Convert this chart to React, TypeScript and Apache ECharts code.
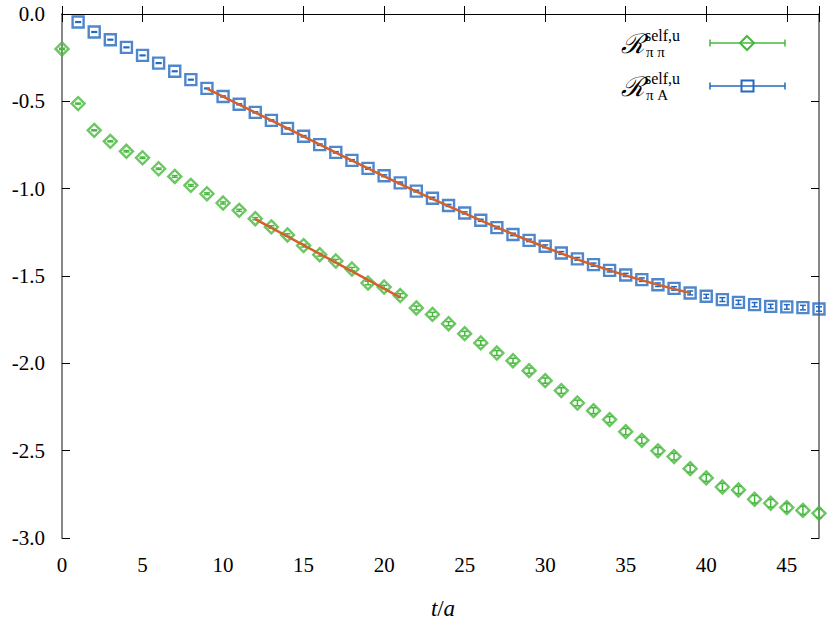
import { useEffect, useRef } from "react";
import * as echarts from "echarts";

// R^{self,u}_{ππ}, t = 0..47
const piPiValues = [
  -0.2, -0.513, -0.666, -0.729, -0.786, -0.823, -0.886, -0.93, -0.981, -1.029,
  -1.082, -1.124, -1.172, -1.219, -1.265, -1.326, -1.378, -1.414, -1.46, -1.54,
  -1.563, -1.612, -1.683, -1.72, -1.773, -1.83, -1.883, -1.941, -1.985, -2.042,
  -2.099, -2.156, -2.227, -2.271, -2.322, -2.391, -2.441, -2.501, -2.534, -2.603,
  -2.656, -2.708, -2.725, -2.778, -2.801, -2.826, -2.842, -2.859
];
const piPiErrors = [
  0.004, 0.003, 0.003, 0.003, 0.004, 0.004, 0.004, 0.005, 0.005, 0.005,
  0.006, 0.006, 0.006, 0.007, 0.007, 0.008, 0.008, 0.009, 0.009, 0.01,
  0.01, 0.011, 0.011, 0.012, 0.012, 0.013, 0.013, 0.014, 0.014, 0.015,
  0.015, 0.016, 0.016, 0.017, 0.017, 0.018, 0.018, 0.019, 0.019, 0.02,
  0.02, 0.021, 0.021, 0.022, 0.022, 0.023, 0.023, 0.024
];

// R^{self,u}_{πA}, t = 1..47
const piAStart = 1;
const piAValues = [
  -0.046, -0.103, -0.147, -0.191, -0.237, -0.281, -0.328, -0.376, -0.426,
  -0.472, -0.517, -0.563, -0.609, -0.655, -0.7, -0.748, -0.792, -0.838, -0.884,
  -0.926, -0.967, -1.014, -1.055, -1.096, -1.139, -1.181, -1.223, -1.262, -1.296,
  -1.33, -1.368, -1.402, -1.435, -1.468, -1.494, -1.521, -1.55, -1.571, -1.597,
  -1.616, -1.635, -1.651, -1.664, -1.674, -1.677, -1.681, -1.689
];
const piAErrors = [
  0.002, 0.002, 0.002, 0.002, 0.002, 0.002, 0.002, 0.002, 0.002,
  0.003, 0.003, 0.003, 0.003, 0.003, 0.004, 0.004, 0.004, 0.004, 0.005,
  0.005, 0.005, 0.005, 0.006, 0.006, 0.006, 0.006, 0.007, 0.007, 0.007,
  0.008, 0.008, 0.008, 0.009, 0.009, 0.009, 0.01, 0.01, 0.01, 0.011,
  0.011, 0.011, 0.012, 0.012, 0.012, 0.013, 0.013, 0.013
];

// fit curves
const piPiFitT = [12, 21];
const piPiFitY = [-1.174, -1.622];
const piAFitT = [9, 14, 19, 24, 29, 34, 39];
const piAFitY = [-0.427, -0.655, -0.884, -1.1, -1.298, -1.468, -1.597];

// tick labels
const xTickValues = [0, 5, 10, 15, 20, 25, 30, 35, 40, 45];
const yTickValues = [0, -0.5, -1, -1.5, -2, -2.5, -3];

const xTicks = { min: 0, max: 47, interval: 5 };
const yTicks = { min: -3, max: 0, interval: 0.5 };

const GREEN = "#46b83c";
const BLUE = "#2469bf";
const ORANGE = "#d2612c";
const FONT = "Liberation Serif";

function errorBars(color: string) {
  return (params: any, api: any) => {
    const x = api.value(0);
    const y = api.value(1);
    const e = api.value(2);
    const top = api.coord([x, y + e]);
    const bot = api.coord([x, y - e]);
    const hw = 3;
    const style = { stroke: color, lineWidth: 1.5 };
    return {
      type: "group",
      children: [
        { type: "line", shape: { x1: top[0], y1: top[1], x2: bot[0], y2: bot[1] }, style },
        { type: "line", shape: { x1: top[0] - hw, y1: top[1], x2: top[0] + hw, y2: top[1] }, style },
        { type: "line", shape: { x1: bot[0] - hw, y1: bot[1], x2: bot[0] + hw, y2: bot[1] }, style }
      ]
    };
  };
}

// legend rows, flat list of graphic elements
function legendEntry(y: number, sub: string, color: string, marker: any): any[] {
  return [
    {
      type: "text",
      x: 621,
      y: y,
      style: { text: "ℛ", fontFamily: "DejaVu Serif", fontStyle: "italic", fontSize: 27, fill: "#000", verticalAlign: "middle" }
    },
    {
      type: "text",
      x: 645,
      y: y - 8,
      style: { text: "self,u", fontFamily: FONT, fontSize: 16, fill: "#000", verticalAlign: "middle" }
    },
    {
      type: "text",
      x: 646,
      y: y + 9,
      style: { text: sub, fontFamily: FONT, fontSize: 15, fill: "#000", verticalAlign: "middle" }
    },
    { type: "line", shape: { x1: 710, y1: y, x2: 785, y2: y }, style: { stroke: color, lineWidth: 1.5 } },
    { type: "line", shape: { x1: 710, y1: y - 3.5, x2: 710, y2: y + 3.5 }, style: { stroke: color, lineWidth: 1.5 } },
    { type: "line", shape: { x1: 785, y1: y - 3.5, x2: 785, y2: y + 3.5 }, style: { stroke: color, lineWidth: 1.5 } },
    marker
  ];
}

export default function App() {
  const ref = useRef<HTMLDivElement | null>(null);

  useEffect(() => {
    document.body.style.margin = "0";
    if (!ref.current) {
      return;
    }
    const chart = echarts.init(ref.current, null, { renderer: "svg" });

    const piPiData = piPiValues.map((v, i) => [i, v]);
    const piPiErr = piPiValues.map((v, i) => [i, v, piPiErrors[i]]);
    const piAData = piAValues.map((v, i) => [i + piAStart, v]);
    const piAErr = piAValues.map((v, i) => [i + piAStart, v, piAErrors[i]]);

    const tick = { show: true, inside: true, length: 8, lineStyle: { color: "#000", width: 1 } };

    chart.setOption({
      animation: false,
      grid: { left: 62, right: 11, top: 14, bottom: 86 },
      xAxis: [
        {
          type: "value",
          position: "bottom",
          ...xTicks,
          axisLine: { show: true, lineStyle: { color: "#000", width: 1 } },
          axisTick: tick,
          splitLine: { show: false },
          axisLabel: { show: false }
        },
        {
          type: "value",
          position: "top",
          ...xTicks,
          axisLine: { show: true, lineStyle: { color: "#000", width: 1 } },
          axisTick: tick,
          splitLine: { show: false },
          axisLabel: { show: false }
        }
      ],
      yAxis: [
        {
          type: "value",
          position: "left",
          ...yTicks,
          axisLine: { show: true, onZero: false, lineStyle: { color: "#888", width: 2 } },
          axisTick: tick,
          splitLine: { show: false },
          axisLabel: { show: false }
        },
        {
          type: "value",
          position: "right",
          ...yTicks,
          axisLine: { show: true, onZero: false, lineStyle: { color: "#888", width: 2 } },
          axisTick: tick,
          splitLine: { show: false },
          axisLabel: { show: false }
        }
      ],
      series: [
        {
          type: "custom",
          name: "piPiErr",
          renderItem: errorBars(GREEN),
          data: piPiErr,
          encode: { x: 0, y: 1 },
          z: 3
        },
        {
          type: "custom",
          name: "piAErr",
          renderItem: errorBars(BLUE),
          data: piAErr,
          encode: { x: 0, y: 1 },
          z: 3
        },
        {
          type: "scatter",
          name: "piPi",
          data: piPiData,
          symbol: "diamond",
          symbolSize: 13,
          itemStyle: { color: "rgba(0,0,0,0)", borderColor: GREEN, borderWidth: 2.4 },
          z: 4
        },
        {
          type: "scatter",
          name: "piA",
          data: piAData,
          symbol: "rect",
          symbolSize: 11,
          itemStyle: { color: "rgba(0,0,0,0)", borderColor: BLUE, borderWidth: 2.4 },
          z: 4
        },
        {
          type: "line",
          name: "piPiFit",
          data: piPiFitT.map((t, i) => [t, piPiFitY[i]]),
          showSymbol: false,
          lineStyle: { color: ORANGE, width: 2.5 },
          z: 5
        },
        {
          type: "line",
          name: "piAFit",
          data: piAFitT.map((t, i) => [t, piAFitY[i]]),
          showSymbol: false,
          smooth: true,
          lineStyle: { color: ORANGE, width: 2.5 },
          z: 5
        }
      ]
    });

    // tick labels and axis title placed through the axes' own scale
    const finder = { xAxisIndex: 0, yAxisIndex: 0 };
    const labelStyle = { fontFamily: FONT, fontSize: 21, fill: "#000" };
    const yLabels = yTickValues.map((v) => {
      const p = chart.convertToPixel(finder, [xTicks.min, v]) as number[];
      return {
        type: "text",
        x: p[0] - 17,
        y: p[1],
        style: { ...labelStyle, text: v.toFixed(1), align: "right", verticalAlign: "middle" }
      };
    });
    const xLabels = xTickValues.map((v) => {
      const p = chart.convertToPixel(finder, [v, yTicks.min]) as number[];
      return {
        type: "text",
        x: p[0],
        y: p[1] + 27,
        style: { ...labelStyle, text: String(v), align: "center", verticalAlign: "middle" }
      };
    });
    const left = chart.convertToPixel(finder, [xTicks.min, yTicks.min]) as number[];
    const right = chart.convertToPixel(finder, [xTicks.max, yTicks.min]) as number[];
    const cx = (left[0] + right[0]) / 2;
    const ny = left[1] + 70;
    const nameStyle = { fontFamily: FONT, fontSize: 23, fill: "#000", verticalAlign: "middle" };
    const axisName = [
      { type: "text", x: cx - 3, y: ny, style: { ...nameStyle, text: "t", fontStyle: "italic", align: "right" } },
      { type: "text", x: cx, y: ny, style: { ...nameStyle, text: "/", align: "center" } },
      { type: "text", x: cx + 3, y: ny, style: { ...nameStyle, text: "a", fontStyle: "italic", align: "left" } }
    ];

    chart.setOption({
      graphic: [
        ...legendEntry(43, "π π", GREEN, {
          type: "polygon",
          shape: { points: [[747, 36], [754, 43], [747, 50], [740, 43]] },
          style: { fill: "none", stroke: GREEN, lineWidth: 2 }
        }),
        ...legendEntry(86, "π A", BLUE, {
          type: "rect",
          shape: { x: 741.5, y: 80.5, width: 12, height: 11 },
          style: { fill: "none", stroke: BLUE, lineWidth: 2 }
        }),
        ...yLabels,
        ...xLabels,
        ...axisName
      ]
    });

    return () => {
      chart.dispose();
    };
  }, []);

  return <div ref={ref} style={{ width: 830, height: 624 }} />;
}
